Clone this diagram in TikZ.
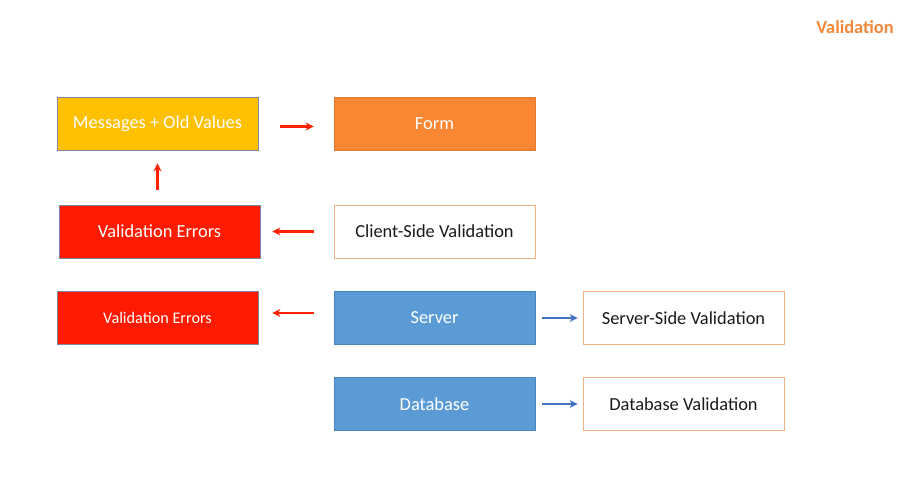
\documentclass[tikz,border=0pt]{standalone}
\usepackage{fontspec}
\setmainfont{Carlito}
\usetikzlibrary{arrows.meta}
\definecolor{cyellow}{HTML}{FFC000}
\definecolor{corange}{HTML}{F88632}
\definecolor{corangeb}{HTML}{E07A30}
\definecolor{cred}{HTML}{FF1A00}
\definecolor{cblue}{HTML}{5B9BD5}
\definecolor{cblueb}{HTML}{4A84BA}
\definecolor{cgrayb}{HTML}{7A8A9A}
\definecolor{cwhiteb}{HTML}{F4B183}
\definecolor{carrowred}{HTML}{FF2000}
\definecolor{carrowblue}{HTML}{4472C4}
\definecolor{ctitle}{HTML}{F4883A}
\definecolor{ctext}{HTML}{1A1A1A}
\tikzset{
  box/.style={rectangle, minimum width=201pt, minimum height=53pt, inner sep=0pt, line width=0.8pt, font=\fontsize{18.4}{21}\selectfont},
  yellowbox/.style={box, fill=cyellow, draw=cgrayb, text=white},
  orangebox/.style={box, fill=corange, draw=corangeb, text=white},
  redbox/.style={box, fill=cred, draw=cgrayb, text=white},
  bluebox/.style={box, fill=cblue, draw=cblueb, text=white},
  whitebox/.style={box, fill=white, draw=cwhiteb, text=ctext},
  redarrow/.style={draw=carrowred, line width=2.4pt, -{Stealth[length=8pt,width=8pt]}},
  bluearrow/.style={draw=carrowblue, line width=2.4pt, -{Stealth[length=8pt,width=8pt]}},
}
\begin{document}
\begin{tikzpicture}[x=1pt,y=-1pt]
\useasboundingbox (0,0) rectangle (904,498);
\fill[white] (0,0) rectangle (904,498);
\node[font=\fontsize{18.4}{21}\selectfont\bfseries, text=ctitle] (title) at (855,27) {Validation};
\node[yellowbox] (msg) at (157.5,123.5) {Messages + Old Values};
\node[orangebox] (form) at (434.5,123.5) {Form};
\node[redbox] (err1) at (159.5,231.5) {Validation Errors};
\node[whitebox] (client) at (434.5,231.5) {Client-Side Validation};
\node[redbox, font=\fontsize{16.2}{19}\selectfont] (err2) at (157.5,318) {Validation Errors};
\node[bluebox] (server) at (434.5,318) {Server};
\node[bluebox] (db) at (434.5,404) {Database};
\node[whitebox] (ssv) at (683.5,318) {Server-Side Validation};
\node[whitebox] (dbv) at (683.5,404) {Database Validation};
\draw[redarrow, shorten <=22pt, shorten >=20pt] ([yshift=-3pt]msg.east) -- ([yshift=-3pt]form.west);
\draw[redarrow, shorten <=15pt, shorten >=13pt] (err1.north -| msg.south) -- (msg.south);
\draw[redarrow, shorten <=20pt, shorten >=12pt] (client.west) -- (err1.east);
\draw[redarrow, shorten <=20pt, shorten >=14pt] ([yshift=5pt]server.west) -- ([yshift=5pt]err2.east);
\draw[bluearrow, shorten <=7pt, shorten >=5pt] (server.east) -- (ssv.west);
\draw[bluearrow, shorten <=7pt, shorten >=5pt] (db.east) -- (dbv.west);
\end{tikzpicture}
\end{document}
